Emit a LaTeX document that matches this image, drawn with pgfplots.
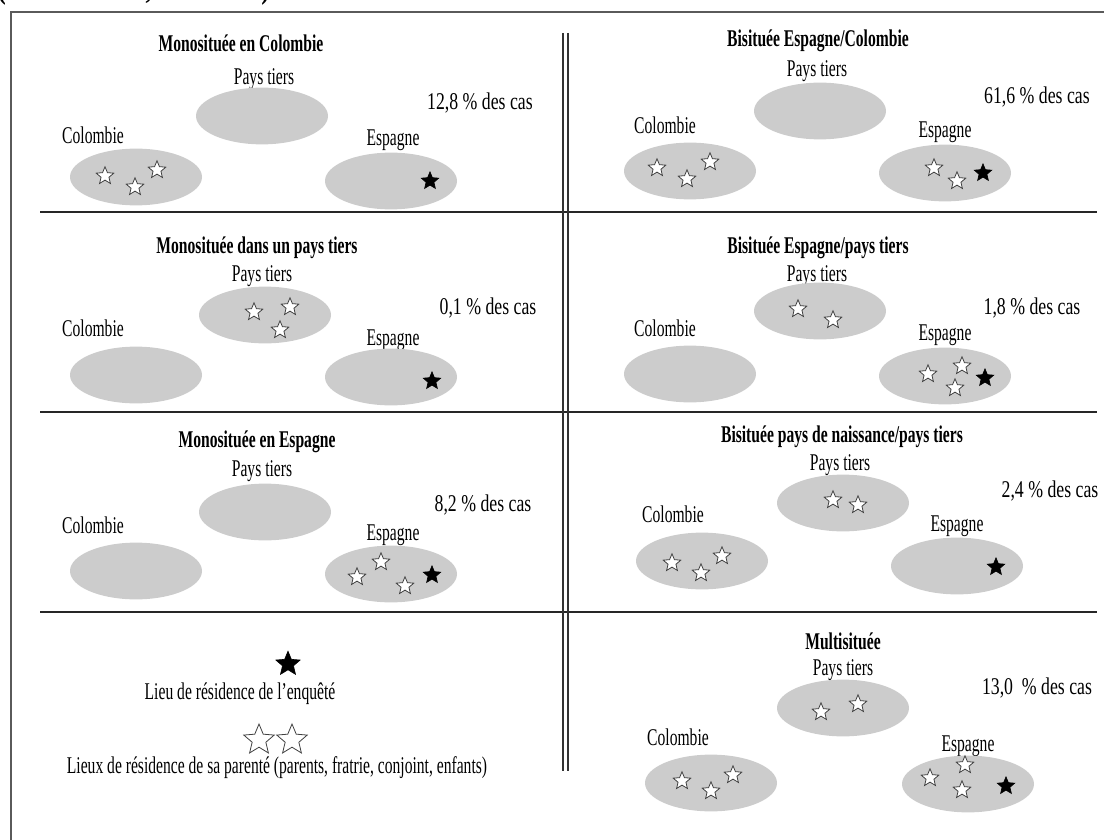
\documentclass[border=0pt]{standalone}
\usepackage{fontspec}
\setmainfont{Liberation Serif}[FakeStretch=0.65]
\newfontfamily\srcfont{Liberation Serif}[FakeStretch=0.8]
\newfontfamily\pctfont{Liberation Serif}[FakeStretch=0.74]
\usepackage{pgfplots}
\pgfplotsset{compat=1.18}
\definecolor{ovalgray}{RGB}{204,204,204}
\definecolor{framegray}{RGB}{90,90,90}
\pgfdeclareplotmark{oval}{%
  \pgfpathellipse{\pgfpointorigin}{\pgfqpoint{\pgfplotmarksize}{0pt}}{\pgfpoint{0pt}{0.43\pgfplotmarksize}}%
  \pgfusepathqfill}
\pgfdeclareplotmark{fstar}{%
  \pgfpathmoveto{\pgfpointpolar{90}{\pgfplotmarksize}}%
  \pgfpathlineto{\pgfpointpolar{126}{0.45\pgfplotmarksize}}%
  \pgfpathlineto{\pgfpointpolar{162}{\pgfplotmarksize}}%
  \pgfpathlineto{\pgfpointpolar{198}{0.45\pgfplotmarksize}}%
  \pgfpathlineto{\pgfpointpolar{234}{\pgfplotmarksize}}%
  \pgfpathlineto{\pgfpointpolar{270}{0.45\pgfplotmarksize}}%
  \pgfpathlineto{\pgfpointpolar{306}{\pgfplotmarksize}}%
  \pgfpathlineto{\pgfpointpolar{342}{0.45\pgfplotmarksize}}%
  \pgfpathlineto{\pgfpointpolar{18}{\pgfplotmarksize}}%
  \pgfpathlineto{\pgfpointpolar{54}{0.45\pgfplotmarksize}}%
  \pgfpathclose
  \pgfusepathqfillstroke}
\begin{document}
\begin{tikzpicture}[every node/.append style={font=\fontsize{12}{14}\selectfont, inner sep=0pt},
  pct/.style={font=\pctfont\fontsize{12}{14}\selectfont}]
\begin{axis}[width=552pt,height=420pt,scale only axis,
  xmin=0,xmax=1104,ymin=0,ymax=840,y dir=reverse,hide axis,clip=false]
% frame and dividers
\addplot[framegray, line width=0.8pt] coordinates {(11,850) (11,12) (1110,12)};
\addplot[black!85, line width=1pt] coordinates {(40,212) (1097,212)};
\addplot[black!85, line width=1pt] coordinates {(40,412) (1097,412)};
\addplot[black!85, line width=1pt] coordinates {(40,612) (1097,612)};
\addplot[black!80, line width=0.8pt] coordinates {(563,33) (563,771)};
\addplot[black!80, line width=0.8pt] coordinates {(568,33) (568,771)};
% country ovals
\addplot[only marks, mark=oval, mark size=33pt, ovalgray] coordinates {
 (262,116) (136,177) (391,181)
 (820,111) (690,171) (945,173)
 (265,315) (136,375) (391,377)
 (820,311) (690,374) (945,376)
 (265,512) (136,571) (391,574)
 (843,503) (702,561) (957,566)
 (843,708) (711,783) (968,784)};
% relatives (white stars)
\addplot[only marks, mark=fstar, mark size=4.6pt, mark options={fill=white, draw=black!75, line width=0.4pt}] coordinates {
 (105,176) (135,187) (157,170)
 (657,168) (687,179) (710,162) (934,168) (957,181)
 (254,312) (290,307) (280,330)
 (798,309) (833,320) (928,374) (962,366) (955,388)
 (357,577) (381,562) (405,586)
 (672,563) (701,573) (722,556) (833,500) (858,505)
 (682,781) (711,791) (733,775) (821,712) (858,704) (930,778) (965,765) (962,790)};
% respondent (black stars)
\addplot[only marks, mark=fstar, mark size=4.6pt, mark options={fill=black, draw=black, line width=0.3pt}] coordinates {
 (430,181) (983,173) (432,381) (985,378) (432,575) (996,567) (1006,786)};
% legend stars
\addplot[only marks, mark=fstar, mark size=6.4pt, mark options={fill=black, draw=black, line width=0.3pt}] coordinates {(288,664)};
\addplot[only marks, mark=fstar, mark size=8pt, mark options={fill=white, draw=black!75, line width=0.4pt}] coordinates {(259,740) (292,740)};
% texts
\node[anchor=base west, font=\srcfont\fontsize{16}{18}\selectfont\bfseries] at (axis cs:-3,-1) {(source : INE, ENI 2007)};
\begin{scope}[every node/.append style={font=\fontsize{12}{14}\selectfont\bfseries}]
\node at (axis cs:241,43) {Monosituée en Colombie};
\node at (axis cs:818,41) {Bisituée Espagne/Colombie};
\node at (axis cs:257,248) {Monosituée dans un pays tiers};
\node at (axis cs:818,248) {Bisituée Espagne/pays tiers};
\node at (axis cs:257,442) {Monosituée en Espagne};
\node at (axis cs:842,437) {Bisituée pays de naissance/pays tiers};
\node at (axis cs:843,641) {Multisituée};
\end{scope}
% panel R1L
\node at (axis cs:264,79) {Pays tiers};
\node[pct] at (axis cs:480,103) {12,8 \% des cas};
\node at (axis cs:93,135) {Colombie};
\node at (axis cs:393,140) {Espagne};
% R1R
\node at (axis cs:817,71) {Pays tiers};
\node[pct] at (axis cs:1037,97) {61,6 \% des cas};
\node at (axis cs:665,125) {Colombie};
\node at (axis cs:945,132) {Espagne};
% R2L
\node at (axis cs:262,276) {Pays tiers};
\node[pct] at (axis cs:488,308) {0,1 \% des cas};
\node at (axis cs:93,328) {Colombie};
\node at (axis cs:393,340) {Espagne};
% R2R
\node at (axis cs:817,276) {Pays tiers};
\node[pct] at (axis cs:1032,308) {1,8 \% des cas};
\node at (axis cs:665,328) {Colombie};
\node at (axis cs:945,335) {Espagne};
% R3L
\node at (axis cs:262,471) {Pays tiers};
\node[pct] at (axis cs:483,505) {8,2 \% des cas};
\node at (axis cs:93,525) {Colombie};
\node at (axis cs:393,535) {Espagne};
% R3R
\node at (axis cs:840,465) {Pays tiers};
\node[pct] at (axis cs:1050,491) {2,4 \% des cas};
\node at (axis cs:673,514) {Colombie};
\node at (axis cs:957,526) {Espagne};
% R4R
\node at (axis cs:843,670) {Pays tiers};
\node[pct] at (axis cs:1037,688) {13,0\ \ \% des cas};
\node at (axis cs:678,737) {Colombie};
\node at (axis cs:968,746) {Espagne};
% legend
\node at (axis cs:240,694) {Lieu de résidence de l'enquêté};
\node at (axis cs:277,768) {Lieux de résidence de sa parenté (parents, fratrie, conjoint, enfants)};
\end{axis}
\pgfresetboundingbox
\useasboundingbox (current axis.south west) rectangle (current axis.north east);
\end{tikzpicture}
\end{document}
